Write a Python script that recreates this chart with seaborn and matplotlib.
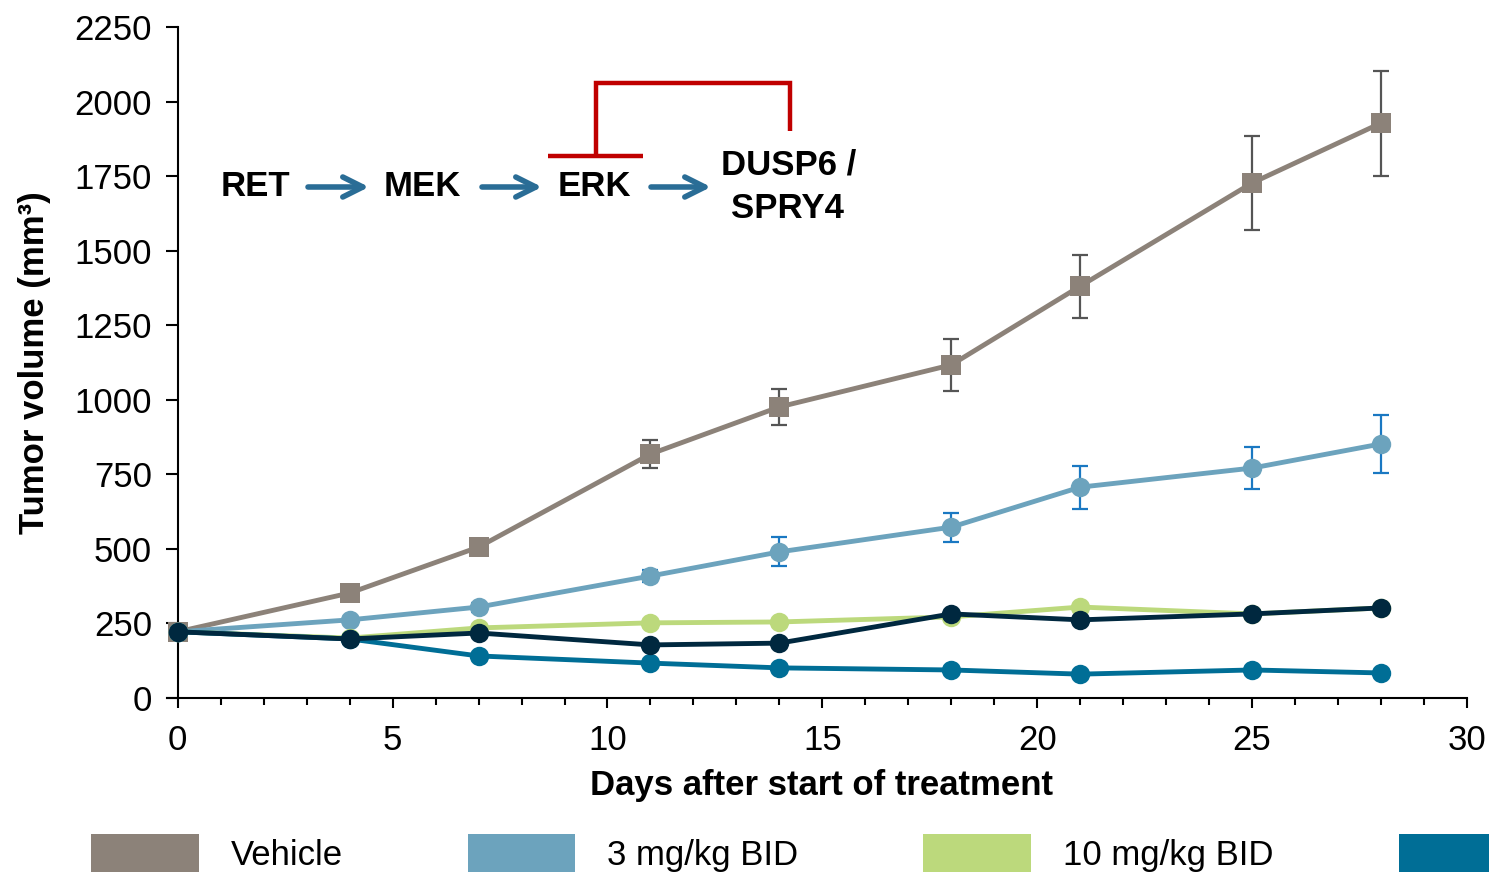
import numpy as np
import pandas as pd
import matplotlib
matplotlib.use("Agg")
import matplotlib.pyplot as plt
import seaborn as sns
from matplotlib.lines import Line2D
from matplotlib.patches import Patch, FancyArrowPatch

# ---------------- data ----------------
days = [0, 4, 7, 11, 14, 18, 21, 25, 28]
groups = ["Vehicle", "3 mg/kg BID", "10 mg/kg BID", "30 mg/kg BID", "60 mg/kg BID"]
vehicle = [222, 352, 506, 818, 976, 1117, 1381, 1727, 1928]
mg3 = [222, 262, 305, 409, 490, 573, 707, 771, 852]
mg10 = [222, 201, 235, 252, 255, 272, 305, 282, 302]
mg30 = [222, 198, 141, 117, 101, 94, 80, 94, 84]
mg60 = [222, 198, 218, 178, 184, 282, 262, 282, 302]
vehicle_err = [0, 12, 18, 47, 60, 87, 106, 158, 176]
mg3_err = [0, 10, 15, 20, 49, 49, 72, 70, 96]

colors = ["#8c8279", "#6ca3bd", "#bcd97c", "#006e96", "#00283f"]
err_colors = ["#555555", "#1a78c2"]
# the 4th legend entry's text lies beyond the right edge in the reference
legend_labels = ["Vehicle", "3 mg/kg BID", "10 mg/kg BID", ""]

df = pd.DataFrame({
    "day": days * 5,
    "volume": vehicle + mg3 + mg10 + mg30 + mg60,
    "group": sum([[g] * len(days) for g in groups], []),
})

# ---------------- figure ----------------
sns.set_theme(style="ticks")
plt.rcParams["font.family"] = ["Liberation Sans", "DejaVu Sans"]
plt.rcParams.update({"text.color": "black", "axes.labelcolor": "black",
                     "xtick.color": "black", "ytick.color": "black"})

W, H = 1489, 875
fig = plt.figure(figsize=(W / 100, H / 100), dpi=100)
ax = fig.add_axes([167 / W, 1 - 698 / H, (1467 - 167) / W, (698 - 27) / H])

def px(x, y):
    return (x / W, 1 - y / H)

# error bars (behind)
for vals, errs, c in [(vehicle, vehicle_err, err_colors[0]), (mg3, mg3_err, err_colors[1])]:
    ax.errorbar(days, vals, yerr=errs, fmt="none", ecolor=c, elinewidth=1.6,
                capsize=6, capthick=1.6, zorder=1)

sns.lineplot(data=df, x="day", y="volume", hue="group", style="group",
             hue_order=groups, style_order=groups, palette=colors,
             markers=["s", "o", "o", "o", "o"], dashes=False,
             linewidth=3.5, markersize=14, markeredgewidth=0,
             legend=False, ax=ax, zorder=3)

ax.set_xlim(-0.25, 30)
ax.set_ylim(0, 2250)
ax.spines["left"].set_position(("data", 0))
ax.spines["left"].set_bounds(0, 2250)
ax.spines["top"].set_visible(False)
ax.spines["right"].set_visible(False)
for s in ["left", "bottom"]:
    ax.spines[s].set_linewidth(1.5)
    ax.spines[s].set_color("black")

ax.set_xticks(np.arange(0, 31, 5))
ax.set_xticks(np.arange(0, 31, 1), minor=True)
ax.set_yticks(np.arange(0, 2251, 250))
ax.tick_params(axis="both", which="major", labelsize=25, width=1.5, color="black",
               labelcolor="black", direction="out")
ax.tick_params(axis="x", which="major", length=7, pad=12)
ax.tick_params(axis="x", which="minor", length=5, width=1.5, color="black")
ax.tick_params(axis="y", which="major", length=8.5, pad=10)
ax.tick_params(axis="y", which="minor", left=False)

ax.set_xlabel("Days after start of treatment", fontsize=25, fontweight="bold")
ax.set_ylabel("Tumor volume (mm³)", fontsize=25, fontweight="bold")
ax.xaxis.set_label_coords((822 - 167) / 1300, -(785 - 698) / 671)
ax.yaxis.set_label_coords((35 - 167) / 1300, 0.5)
ax.xaxis.label.set_va("center")
ax.yaxis.label.set_va("center")

# ---------------- pathway diagram ----------------
tkw = dict(fontsize=25, fontweight="bold", ha="center", va="center", color="black")
for label, x, y in [("RET", 255, 187), ("MEK", 422, 187), ("ERK", 594, 187),
                    ("DUSP6 /", 789, 165), ("SPRY4", 787, 209)]:
    fig.text(*px(x, y), label, **tkw)

blue = "#2a6d96"
for x0, x1 in [(308, 369), (482, 542), (651, 711)]:
    fig.add_artist(FancyArrowPatch(
        px(x0, 187), px(x1, 187), transform=fig.transFigure,
        arrowstyle="->", mutation_scale=36, lw=4, color=blue,
        shrinkA=0, shrinkB=0))

red = "#c00000"
fig.add_artist(Line2D([548 / W, 643 / W], [1 - 156 / H] * 2, transform=fig.transFigure,
                      color=red, lw=3.2, solid_capstyle="butt"))
xs = [596, 596, 790, 790]
ys = [156, 83, 83, 131]
fig.add_artist(Line2D([x / W for x in xs], [1 - y / H for y in ys], transform=fig.transFigure,
                      color=red, lw=3.2, solid_capstyle="butt", solid_joinstyle="miter"))

# ---------------- legend ----------------
handles = [Patch(facecolor=c, edgecolor="none") for c in colors[:4]]
fig.legend(handles, legend_labels, loc="center left", bbox_to_anchor=px(91, 853),
           ncol=4, frameon=False, fontsize=25, handlelength=3.1, handleheight=1.3,
           handletextpad=0.92, columnspacing=3.6, borderpad=0, borderaxespad=0)

fig.savefig("out.png", dpi=100)
